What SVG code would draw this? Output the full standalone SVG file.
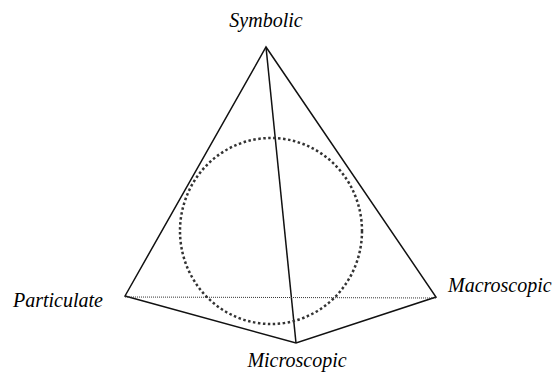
<svg xmlns="http://www.w3.org/2000/svg" width="557" height="372" viewBox="0 0 557 372">
<style>
.edge{stroke:#111;stroke-width:1.5;fill:none;stroke-linejoin:miter}
</style>
<rect width="557" height="372" fill="#fff"/>
<g id="connectors">
<path class="edge" d="M125,296 L266,47 L436,297 L296,343 Z"/>
<line class="edge" x1="266" y1="47" x2="296" y2="343" stroke-width="1.3"/>
<line x1="125" y1="297" x2="436" y2="298" stroke="#333" stroke-width="1" stroke-dasharray="1 1"/>
<ellipse cx="271" cy="231" rx="91" ry="93" fill="none" stroke="#333" stroke-width="2.5" stroke-dasharray="2.5 2.5"/>
</g>
<g id="symbolic"><text x="266" y="27" text-anchor="middle" font-family="Liberation Serif" font-style="italic" font-size="20">Symbolic</text></g>
<g id="particulate"><text x="13" y="307" font-family="Liberation Serif" font-style="italic" font-size="20">Particulate</text></g>
<g id="macroscopic"><text x="448" y="292" font-family="Liberation Serif" font-style="italic" font-size="20">Macroscopic</text></g>
<g id="microscopic"><text x="297" y="367" text-anchor="middle" font-family="Liberation Serif" font-style="italic" font-size="20">Microscopic</text></g>
</svg>
